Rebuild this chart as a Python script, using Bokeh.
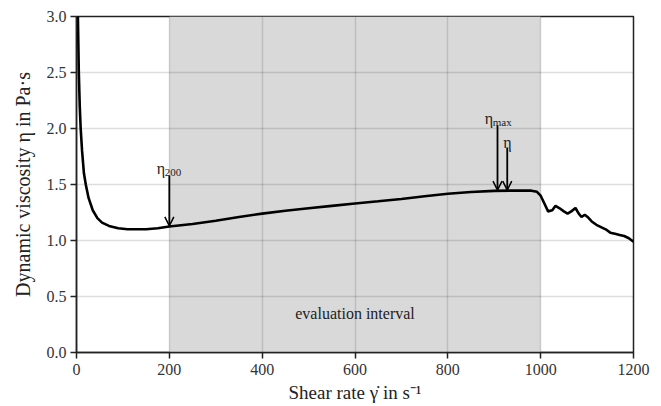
from bokeh.plotting import figure
from bokeh.models import Arrow, OpenHead, Range1d, FixedTicker, Label, NumeralTickFormatter
from bokeh.embed import file_html
from bokeh.resources import INLINE

# ---- data ----
shear_rate = [2, 3, 5, 7, 9, 12, 16, 20, 26, 35, 45, 55, 70, 90, 110, 130, 150, 175, 200,
              250, 300, 350, 400, 450, 500, 550, 600, 650, 700, 750, 800, 850, 900, 950,
              980, 992, 1000, 1008, 1016, 1025, 1032, 1040, 1050, 1058, 1066, 1075, 1082,
              1088, 1095, 1101, 1110, 1120, 1130, 1140, 1150, 1160, 1170, 1180, 1190, 1200]
viscosity = [3.2, 3.0, 2.5, 2.2, 2.0, 1.8, 1.6, 1.5, 1.38, 1.27, 1.2, 1.16, 1.13, 1.11, 1.10,
             1.10, 1.10, 1.11, 1.125, 1.147, 1.177, 1.21, 1.24, 1.265, 1.288, 1.309, 1.33,
             1.35, 1.371, 1.395, 1.418, 1.433, 1.443, 1.447, 1.445, 1.435, 1.40, 1.33, 1.26, 1.27,
             1.31, 1.29, 1.26, 1.24, 1.26, 1.29, 1.24, 1.21, 1.23, 1.21, 1.17, 1.14, 1.12,
             1.10, 1.07, 1.06, 1.05, 1.04, 1.02, 0.99]

interval = [200, 1000]
x_ticks = [0, 200, 400, 600, 800, 1000, 1200]
y_ticks = [0.0, 0.5, 1.0, 1.5, 2.0, 2.5, 3.0]

arrow_labels = ["η", "η", "η"]
arrow_subs = ["200", "max", ""]
arrow_x = [200, 907, 928]
arrow_top = [1.58, 2.03, 1.83]
arrow_tip = [1.13, 1.45, 1.45]
label_y = [1.64, 2.09, 1.875]

interval_label = "evaluation interval"
interval_label_pos = (600, 0.35)

FONT = "Liberation Serif, Times New Roman, serif"
TXT = "#222222"

p = figure(frame_width=557, frame_height=336, output_backend="svg", toolbar_location=None,
           x_range=Range1d(0, 1200), y_range=Range1d(0, 3.0),
           min_border_left=76, min_border_right=28, min_border_top=16, min_border_bottom=54)
p.background_fill_color = "white"
p.border_fill_color = "white"
p.outline_line_color = "#222222"
p.outline_line_width = 1.5

# shaded evaluation interval (below the grid)
shade = p.quad(left=[interval[0]], right=[interval[1]], bottom=[0], top=[3.0],
               fill_color="#d9d9d9", line_color=None)
shade.level = "image"

# grid
for g in (p.xgrid, p.ygrid):
    g.grid_line_color = "black"
    g.grid_line_alpha = 0.13
    g.grid_line_width = 1.5

# curve
p.line(shear_rate, viscosity, line_color="black", line_width=2.6)

# arrows and labels
ETA_W = 8.0
for lab, sub, x, yt, yb, ly in zip(arrow_labels, arrow_subs, arrow_x, arrow_top, arrow_tip, label_y):
    p.add_layout(Arrow(end=OpenHead(size=9, line_width=1.5, line_color="black"),
                       x_start=x, y_start=yt, x_end=x, y_end=yb,
                       line_color="black", line_width=1.8))
    sub_w = len(sub) * 5.8
    start = -(ETA_W + sub_w) / 2
    p.add_layout(Label(x=x, y=ly, text=lab, text_font=FONT, text_font_size="16px",
                       text_color=TXT, text_align="left", text_baseline="alphabetic",
                       x_offset=start))
    if sub:
        p.add_layout(Label(x=x, y=ly, text=sub, text_font=FONT, text_font_size="11px",
                           text_color=TXT, text_align="left", text_baseline="alphabetic",
                           x_offset=start + ETA_W, y_offset=-4))

p.add_layout(Label(x=interval_label_pos[0], y=interval_label_pos[1], text=interval_label,
                   text_font=FONT, text_font_size="16px", text_color=TXT,
                   text_align="center", text_baseline="middle"))

# axes
p.xaxis.ticker = FixedTicker(ticks=x_ticks)
p.yaxis.ticker = FixedTicker(ticks=y_ticks)
p.yaxis.formatter = NumeralTickFormatter(format="0.0")
p.xaxis.axis_label = "Shear rate γ̇ in s⁻¹"
p.yaxis.axis_label = "Dynamic viscosity η in Pa·s"
for ax in (p.xaxis, p.yaxis):
    ax.axis_label_text_font = FONT
    ax.axis_label_text_font_size = "19px"
    ax.axis_label_text_font_style = "normal"
    ax.axis_label_text_color = TXT
    ax.major_label_text_font = FONT
    ax.major_label_text_font_size = "16px"
    ax.major_label_text_color = "#333333"
    ax.axis_line_color = "#222222"
    ax.axis_line_width = 1.5
    ax.major_tick_line_color = "#222222"
    ax.major_tick_line_width = 1.5
    ax.major_tick_out = 6
    ax.major_tick_in = 0
    ax.minor_tick_line_color = None
p.yaxis.axis_label_text_font_size = "20px"
p.xaxis.major_label_standoff = 5
p.xaxis.axis_label_standoff = 4
p.yaxis.major_label_standoff = 4
p.yaxis.axis_label_standoff = 10

open("out.html", "w").write(file_html(p, INLINE))
